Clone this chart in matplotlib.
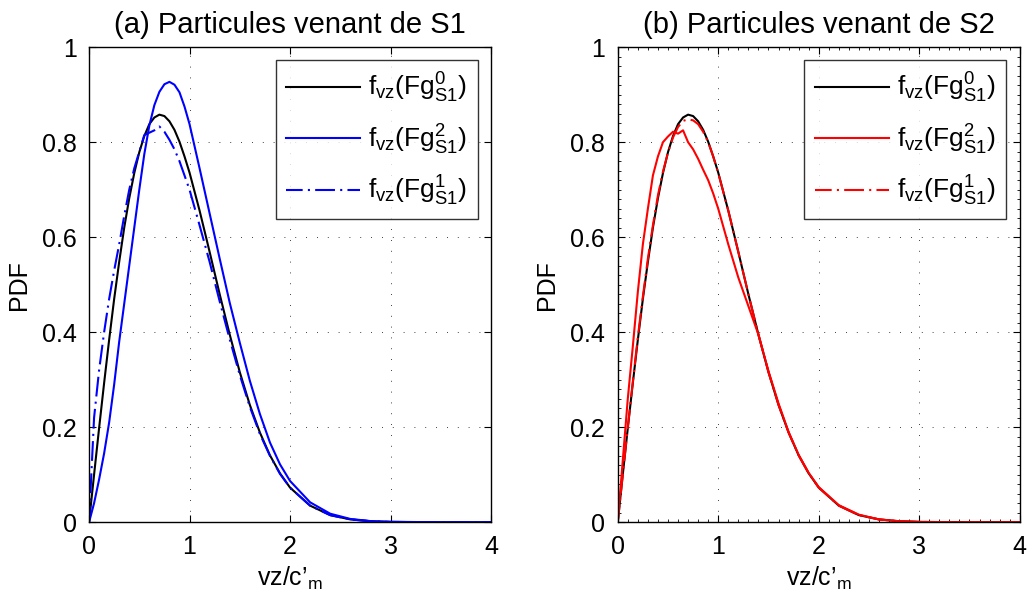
import matplotlib
matplotlib.use("Agg")
import matplotlib.pyplot as plt
from matplotlib.ticker import AutoMinorLocator

plt.rcParams['font.family'] = ['Liberation Sans', 'DejaVu Sans']
plt.rcParams['mathtext.fontset'] = 'custom'
plt.rcParams['mathtext.rm'] = 'Liberation Sans'
plt.rcParams['mathtext.it'] = 'Liberation Sans'

# ---- data ----
x = [0, 0.05, 0.1, 0.15, 0.2, 0.25, 0.3, 0.35, 0.4, 0.45, 0.5, 0.55, 0.6, 0.65,
     0.7, 0.75, 0.8, 0.85, 0.9, 0.95, 1.0, 1.1, 1.2, 1.3, 1.4, 1.5, 1.6, 1.7,
     1.8, 1.9, 2.0, 2.2, 2.4, 2.6, 2.8, 3.0, 3.5, 4.0]

f_fg0 = [0, 0.100, 0.198, 0.293, 0.384, 0.470, 0.548, 0.620, 0.682, 0.735, 0.779,
         0.813, 0.838, 0.852, 0.858, 0.855, 0.844, 0.826, 0.801, 0.770, 0.736,
         0.656, 0.569, 0.480, 0.395, 0.316, 0.247, 0.189, 0.141, 0.103, 0.073,
         0.035, 0.015, 0.006, 0.0022, 0.0007, 0.0, 0.0]

a_fg2 = [0, 0.04, 0.09, 0.145, 0.21, 0.29, 0.38, 0.46, 0.54, 0.62, 0.70, 0.775,
         0.835, 0.878, 0.906, 0.922, 0.927, 0.921, 0.905, 0.875, 0.838, 0.745,
         0.650, 0.555, 0.462, 0.378, 0.298, 0.228, 0.168, 0.122, 0.087, 0.042,
         0.018, 0.007, 0.0025, 0.001, 0.0, 0.0]

a_fg1 = [0, 0.22, 0.32, 0.40, 0.47, 0.53, 0.585, 0.645, 0.70, 0.745, 0.78, 0.815,
         0.82, 0.825, 0.833, 0.822, 0.805, 0.785, 0.76, 0.73, 0.70, 0.625, 0.548,
         0.465, 0.385, 0.31, 0.243, 0.186, 0.14, 0.102, 0.073, 0.035, 0.015,
         0.006, 0.0022, 0.0007, 0.0, 0.0]

b_fg2 = [0, 0.13, 0.26, 0.37, 0.485, 0.585, 0.66, 0.73, 0.77, 0.80, 0.812, 0.822,
         0.818, 0.825, 0.80, 0.785, 0.765, 0.742, 0.72, 0.692, 0.66, 0.585, 0.515,
         0.455, 0.395, 0.318, 0.25, 0.19, 0.142, 0.104, 0.074, 0.036, 0.016,
         0.006, 0.0022, 0.0008, 0.0, 0.0]

b_fg1 = [0, 0.10, 0.20, 0.295, 0.39, 0.475, 0.555, 0.625, 0.688, 0.738, 0.778,
         0.81, 0.832, 0.845, 0.848, 0.846, 0.838, 0.822, 0.80, 0.77, 0.735, 0.656,
         0.569, 0.480, 0.395, 0.316, 0.247, 0.189, 0.141, 0.103, 0.073, 0.035,
         0.015, 0.006, 0.0022, 0.0007, 0.0, 0.0]

titles = ["(a) Particules venant de S1", "(b) Particules venant de S2"]
labels = [r"$\mathregular{f_{vz}(Fg^{0}_{S1})}$",
          r"$\mathregular{f_{vz}(Fg^{2}_{S1})}$",
          r"$\mathregular{f_{vz}(Fg^{1}_{S1})}$"]
xticks = [0, 1, 2, 3, 4]
yticks = [0, 0.2, 0.4, 0.6, 0.8, 1]
ytick_labels = ["0", "0.2", "0.4", "0.6", "0.8", "1"]

fig = plt.figure(figsize=(10.27, 6.01), dpi=100)
ax1 = fig.add_axes([0.0867, 0.1310, 0.3914, 0.7905])
ax2 = fig.add_axes([0.6015, 0.1310, 0.3914, 0.7905])

dashdot = (1.5, (9.5, 2.5, 1, 2.5))
series = [(ax1, 'blue', a_fg2, a_fg1), (ax2, 'red', b_fg2, b_fg1)]

for i, (ax, col, s2, s1) in enumerate(series):
    ax.plot(x, f_fg0, color='black', lw=1.5, label=labels[0])
    ax.plot(x, s2, color=col, lw=1.5, label=labels[1])
    ax.plot(x, s1, color=col, lw=1.5, ls=dashdot, label=labels[2])
    ax.set_xlim(0, 4)
    ax.set_ylim(0, 1)
    ax.set_xticks(xticks)
    ax.set_yticks(yticks)
    ax.set_yticklabels(ytick_labels)
    ax.grid(True, color='black', lw=0.6, ls=(0, (1, 12)))
    ax.tick_params(direction='in', length=5, width=0.8, labelsize=18,
                   top=True, right=True, pad=9)
    for sp in ax.spines.values():
        sp.set_linewidth(1.0)
    ax.set_title(titles[i], fontsize=21, pad=10)
    ax.set_xlabel("vz/c\u2019$_\\mathregular{m}$", fontsize=18, labelpad=4)
    ax.set_ylabel("PDF", fontsize=18, labelpad=8)
    leg = ax.legend(loc='upper right', fontsize=19, frameon=True, fancybox=False,
                    edgecolor='black', handlelength=2.8, borderpad=0.4,
                    labelspacing=0.66, handletextpad=0.3, borderaxespad=0,
                    bbox_to_anchor=(0.967, 0.972))
    leg.get_frame().set_linewidth(1.0)

ax2.xaxis.set_minor_locator(AutoMinorLocator(10))
ax2.yaxis.set_minor_locator(AutoMinorLocator(10))
ax2.tick_params(which='minor', direction='in', length=2.5, width=0.6,
                top=True, right=True)

fig.savefig("out.png", dpi=100)
